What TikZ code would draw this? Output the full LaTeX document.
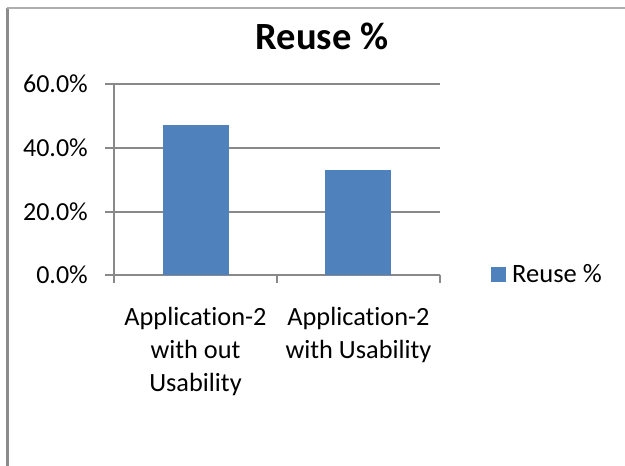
\documentclass[tikz,border=0pt]{standalone}
\usepackage{fontspec}
\setmainfont{Carlito}[RawFeature={-liga}]
\definecolor{barblue}{HTML}{4F81BD}
\definecolor{gridgray}{HTML}{898989}
\definecolor{framegray}{HTML}{8C8C8C}
\begin{document}
\begin{tikzpicture}[x=1pt,y=1pt,
  grid/.style={draw=gridgray,line width=1.8pt},
  bar/.style={fill=barblue,draw=none},
  ticklab/.style={anchor=base east,inner sep=0pt,font=\fontsize{26}{33}\selectfont},
  catlab/.style={anchor=base,inner sep=0pt,align=center,font=\fontsize{26.3}{33}\selectfont},
]
\useasboundingbox (0,0) rectangle (625,466);
% frame
\draw[framegray,line width=2.5pt] (7.5,0) -- (7.5,458);
\draw[framegray!70,line width=1.2pt] (7,458) -- (625,458);
% gridlines (y' = 466 - y)
\draw[grid] (105,191) -- (440,191);
\draw[grid] (105,254) -- (440,254);
\draw[grid] (105,318) -- (440,318);
\draw[grid] (105,382) -- (440,382);
% axis
\draw[grid] (114,382) -- (114,183);
\draw[grid] (277,191) -- (277,183);
\draw[grid] (440,191) -- (440,183);
% bars
\fill[bar] (163,191) rectangle (229,{191+47.1*191/60});
\fill[bar] (325,191) rectangle (391,{191+33.0*191/60});
% tick labels
\node[ticklab] (t0) at (88,182) {0.0\%};
\node[ticklab] (t20) at (88,245) {20.0\%};
\node[ticklab] (t40) at (88,309) {40.0\%};
\node[ticklab] (t60) at (88,373) {60.0\%};
% title
\node[anchor=base,inner sep=0pt,font=\fontsize{38.5}{44}\selectfont\bfseries] (title) at (322,416) {Reuse \%};
% category labels (base = last line)
\node[catlab] (c1) at (195.5,74) {Application-2\\with out\\Usability};
\node[catlab] (c2) at (358.5,107) {Application-2\\with Usability};
% legend
\fill[barblue] (491,184) rectangle (506,199);
\node[anchor=base west,inner sep=0pt,font=\fontsize{26.5}{33}\selectfont] (leg) at (512,183) {Reuse \%};
\end{tikzpicture}
\end{document}
